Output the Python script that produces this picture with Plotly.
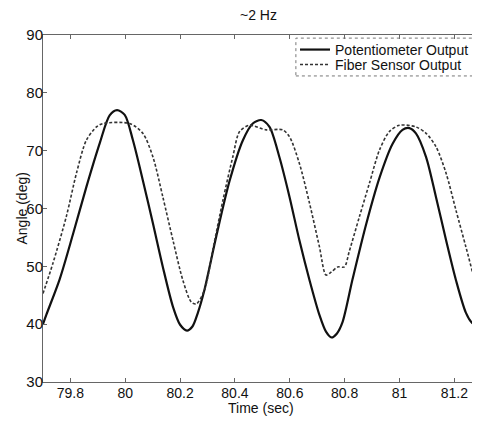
import plotly.graph_objects as go

# Potentiometer output (solid)
pot_t = [79.700, 79.712, 79.761, 79.809, 79.858, 79.907, 79.943, 79.970, 79.998, 80.028,
         80.064, 80.101, 80.137, 80.174, 80.200, 80.225, 80.245, 80.265, 80.287, 80.332,
         80.380, 80.429, 80.465, 80.496, 80.526, 80.562, 80.599, 80.635, 80.672, 80.708,
         80.732, 80.752, 80.772, 80.792, 80.829, 80.878, 80.927, 80.975, 81.011, 81.036,
         81.060, 81.097, 81.133, 81.170, 81.206, 81.242, 81.265, 81.280, 81.291]
pot_a = [40.0, 41.6, 47.8, 55.5, 63.7, 71.3, 76.1, 77.0, 76.2, 71.8,
         64.9, 57.4, 49.9, 43.0, 39.9, 38.9, 39.6, 42.0, 45.6, 55.2,
         64.7, 71.8, 74.7, 75.3, 74.1, 68.9, 62.0, 54.5, 47.6, 41.6,
         38.7, 37.7, 38.4, 40.3, 47.8, 57.2, 65.3, 71.2, 73.6, 73.9,
         73.0, 68.9, 62.0, 54.5, 47.6, 42.0, 40.2, 39.8, 39.9]

# Fiber sensor output (dashed)
fib_t = [79.700, 79.736, 79.785, 79.822, 79.858, 79.895, 79.919, 80.016, 80.064, 80.101,
         80.137, 80.174, 80.210, 80.241, 80.259, 80.289, 80.319, 80.356, 80.392, 80.417,
         80.453, 80.514, 80.574, 80.599, 80.635, 80.672, 80.708, 80.732, 80.751, 80.775,
         80.799, 80.817, 80.854, 80.890, 80.927, 80.963, 81.000, 81.060, 81.097, 81.133,
         81.170, 81.206, 81.242, 81.279, 81.291]
fib_a = [45.3, 50.5, 58.6, 66.1, 71.8, 74.1, 74.7, 74.7, 73.0, 68.9,
         62.0, 54.5, 47.6, 43.8, 43.5, 45.9, 52.8, 61.4, 68.9, 73.3,
         74.4, 73.6, 73.6, 72.4, 67.8, 60.9, 53.4, 48.5, 49.0, 49.9,
         49.9, 52.6, 58.6, 64.3, 70.1, 73.3, 74.4, 74.1, 73.0, 70.7,
         66.1, 59.7, 53.4, 47.0, 45.9]

x_ticks = [79.8, 80, 80.2, 80.4, 80.6, 80.8, 81, 81.2]
x_tick_labels = ["79.8", "80", "80.2", "80.4", "80.6", "80.8", "81", "81.2"]
y_ticks = [30, 40, 50, 60, 70, 80, 90]

font = "Liberation Sans, Arial, sans-serif"

fig = go.Figure()
fig.add_trace(go.Scatter(x=pot_t, y=pot_a, mode="lines", name="Potentiometer Output",
                         hoverinfo="skip", legend="legend",
                         line=dict(color="#111111", width=2.2, shape="spline", smoothing=0.8)))
fig.add_trace(go.Scatter(x=fib_t, y=fib_a, mode="lines", name="Fiber Sensor Output",
                         hoverinfo="skip", legend="legend2",
                         line=dict(color="#333333", width=1.6, dash="3px,2px", shape="spline", smoothing=0.8)))

leg_common = dict(xanchor="left", yanchor="top", bgcolor="rgba(255,255,255,0)",
                  borderwidth=0, font=dict(size=14), itemwidth=30)

fig.update_layout(
    width=472, height=413,
    margin=dict(l=35, r=1, t=27, b=39),
    paper_bgcolor="white", plot_bgcolor="white",
    font=dict(family=font, size=14, color="#111111"),
    showlegend=True,
    legend=dict(x=0.578, y=1.003, **leg_common),
    legend2=dict(x=0.578, y=0.960, **leg_common),
    xaxis=dict(range=[79.7, 81.29], tickvals=x_ticks, ticktext=x_tick_labels,
               ticks="inside", ticklen=4, tickcolor="#666", showgrid=False, zeroline=False,
               showline=True, linecolor="#666", linewidth=1, mirror="ticks",
               tickfont=dict(size=14), ticklabelstandoff=-2),
    yaxis=dict(range=[30, 90], tickvals=y_ticks,
               ticks="inside", ticklen=4, tickcolor="#666", showgrid=False, zeroline=False,
               showline=True, linecolor="#666", linewidth=1, mirror="ticks",
               tickfont=dict(size=15), ticklabelstandoff=-4),
    annotations=[
        dict(text="~2 Hz", xref="paper", yref="paper", x=0.5, xshift=-3, y=1, yshift=20,
             xanchor="center", yanchor="middle", showarrow=False, font=dict(size=14)),
        dict(text="Time (sec)", xref="paper", yref="paper", x=0.5, y=0, yshift=-26,
             xanchor="center", yanchor="middle", showarrow=False, font=dict(size=14)),
        dict(text="Angle (deg)", xref="paper", yref="paper", x=0, xshift=-22, y=0.5,
             xanchor="center", yanchor="middle", textangle=-90, showarrow=False,
             font=dict(size=14)),
    ],
    shapes=[
        dict(type="rect", xref="paper", yref="paper", x0=0.580, x1=0.993, y0=0.882, y1=0.991,
             line=dict(color="#777", width=1, dash="dot"), fillcolor="rgba(0,0,0,0)"),
    ],
)

fig.write_html("out.html")
